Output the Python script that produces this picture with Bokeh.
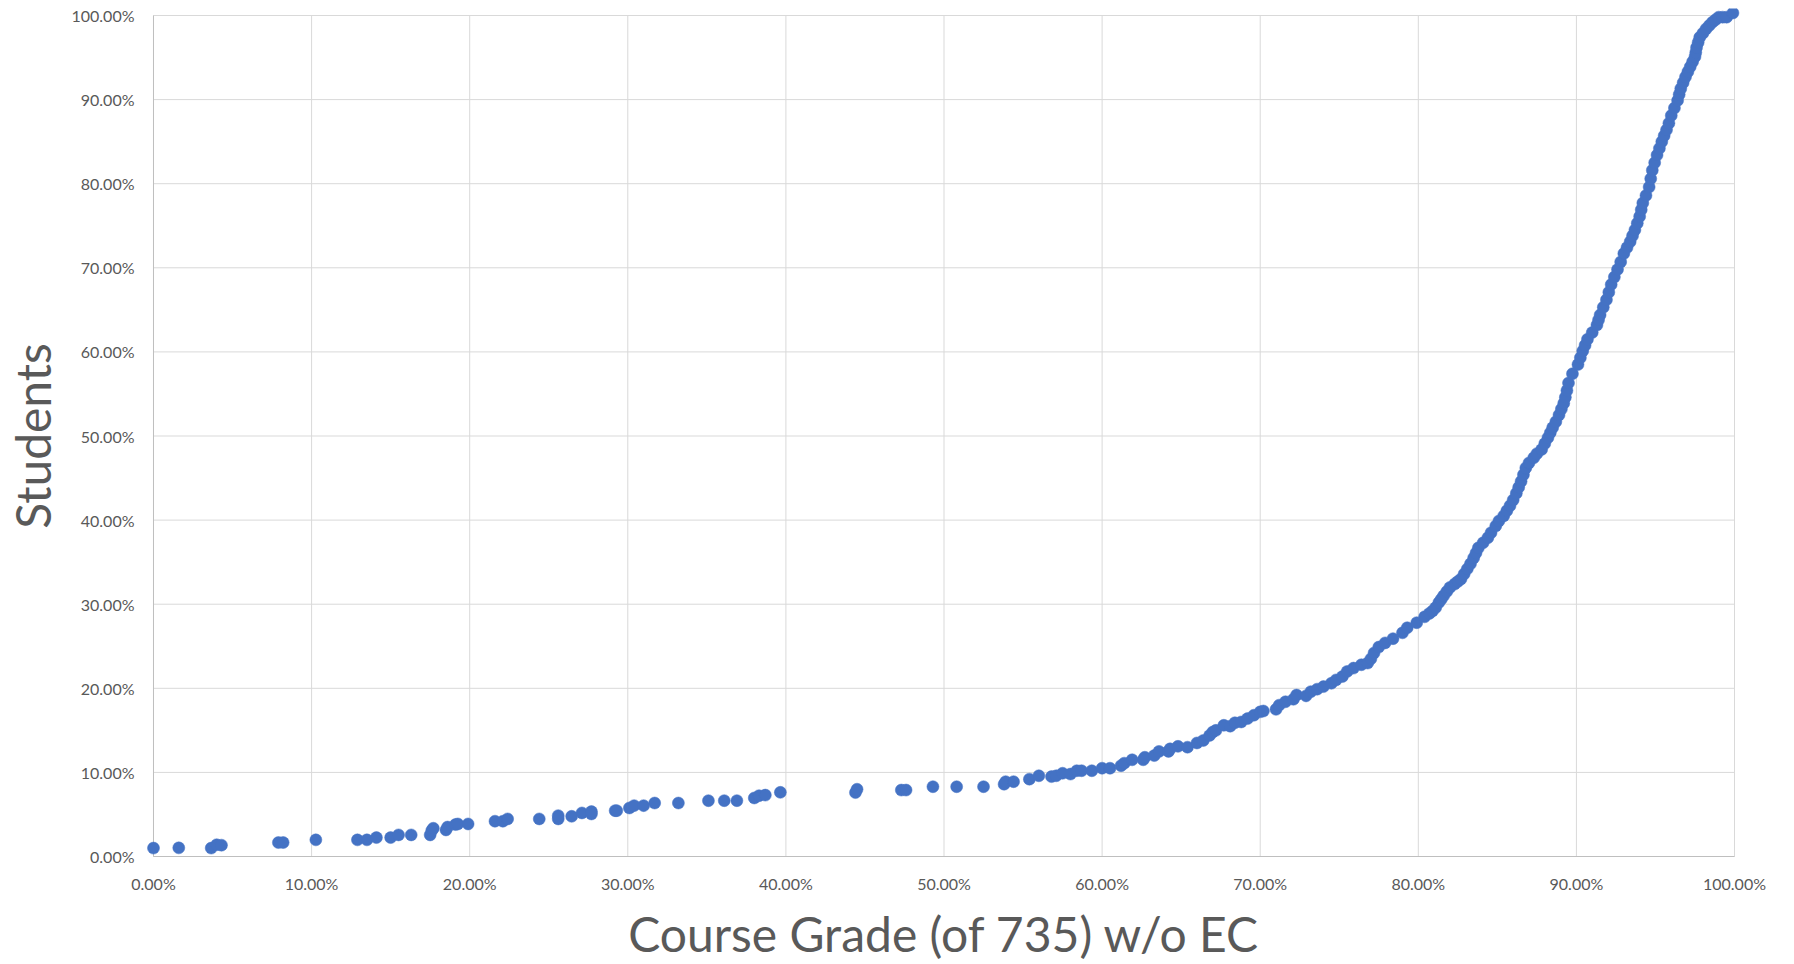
from bokeh.plotting import figure
from bokeh.models import ColumnDataSource, FixedTicker, NumeralTickFormatter
from bokeh.embed import file_html
from bokeh.resources import INLINE

# ---- data (percent) ----
low_grade = [0.0, 1.6, 3.65, 4.0, 4.3, 7.9, 8.2, 10.27, 12.9, 13.5,
             14.1, 15.0, 15.5, 16.3, 17.5, 17.6, 17.7, 18.5, 18.6, 19.1,
             19.25, 19.9, 21.6, 22.1, 22.4, 24.4, 25.6, 25.6, 26.45, 27.1,
             27.7, 27.7, 29.2, 29.3, 30.1, 30.4, 31.0, 31.7, 33.2, 35.1,
             36.1, 36.9, 38.0, 38.3, 38.7, 39.65]
low_students = [1.0, 1.03, 1.0, 1.4, 1.35, 1.66, 1.66, 1.98, 1.98, 1.98,
                2.25, 2.25, 2.57, 2.57, 2.57, 3.1, 3.36, 3.16, 3.5, 3.8,
                3.87, 3.87, 4.2, 4.2, 4.47, 4.47, 4.47, 4.86, 4.78, 5.18,
                5.34, 5.06, 5.45, 5.45, 5.77, 6.05, 6.05, 6.36, 6.36, 6.64,
                6.64, 6.64, 6.96, 7.23, 7.3, 7.63]

mid_grade = [44.4, 44.5, 47.3, 47.6, 49.3, 50.8, 52.5, 53.8, 53.9, 54.4,
             55.4, 56.0, 56.8, 57.1, 57.5, 58.0, 58.4, 58.7, 59.35, 60.0,
             60.5, 61.2, 61.4, 61.9, 62.6, 62.7, 63.3, 63.6, 64.2, 64.3,
             64.8, 65.4, 66.0, 66.4, 66.8, 67.0, 67.2, 67.7, 68.1, 68.4,
             68.8, 69.2, 69.6, 70.0, 70.2, 71.0, 71.2, 71.6, 72.1, 72.3,
             72.9, 73.2, 73.6, 74.0, 74.5, 74.8, 75.2, 75.5, 75.9, 76.4,
             76.8, 77.0, 77.2, 77.5, 77.9, 78.4, 79.0, 79.3, 79.9]
mid_students = [7.6, 8.0, 7.9, 7.9, 8.3, 8.3, 8.3, 8.6, 8.9, 8.9,
                9.2, 9.6, 9.5, 9.6, 9.9, 9.8, 10.2, 10.2, 10.2, 10.5,
                10.5, 10.8, 11.1, 11.5, 11.5, 11.8, 12.0, 12.5, 12.5, 12.8,
                13.1, 13.0, 13.5, 13.8, 14.4, 14.8, 15.0, 15.6, 15.5, 15.9,
                16.0, 16.4, 16.8, 17.2, 17.3, 17.5, 18.0, 18.4, 18.7, 19.2,
                19.1, 19.6, 19.9, 20.2, 20.6, 21.0, 21.4, 22.0, 22.4, 22.8,
                23.0, 23.5, 24.2, 24.9, 25.4, 25.9, 26.6, 27.2, 27.8]

top_grade = [80.4, 80.7, 80.9, 81.1, 81.3, 81.45, 81.6, 81.8, 82.0, 82.3,
             82.5, 82.7, 82.9, 83.1, 83.3, 83.5, 83.65, 83.8, 84.1, 84.4,
             84.6, 84.9, 85.1, 85.4, 85.6, 85.8, 86.0, 86.2, 86.35, 86.5,
             86.65, 86.8, 87.0, 87.3, 87.5, 87.8, 88.0, 88.2, 88.35, 88.5,
             88.7, 88.9, 89.05, 89.2, 89.3, 89.4, 89.5, 89.75, 90.1, 90.25,
             90.4, 90.55, 90.7, 91.0, 91.3, 91.4, 91.5, 91.7, 91.9, 92.05,
             92.2, 92.4, 92.6, 92.8, 93.0, 93.2, 93.4, 93.55, 93.7, 93.85,
             94.0, 94.1, 94.2, 94.4, 94.6, 94.7, 94.8, 94.95, 95.1, 95.25,
             95.4, 95.55, 95.7, 95.85, 96.0, 96.2, 96.4, 96.5, 96.6, 96.75,
             96.9, 97.05, 97.2, 97.35, 97.5, 97.55, 97.6, 97.7, 97.8, 98.0,
             98.2, 98.4, 98.6, 98.8, 99.0, 99.25, 99.5, 99.9]
top_students = [28.5, 28.9, 29.2, 29.6, 30.2, 30.6, 31.0, 31.5, 32.0, 32.4,
                32.7, 33.0, 33.6, 34.2, 34.8, 35.5, 36.1, 36.7, 37.3, 37.9,
                38.5, 39.3, 39.9, 40.5, 41.1, 41.7, 42.4, 43.2, 43.9, 44.6,
                45.4, 46.2, 46.8, 47.4, 47.9, 48.4, 49.1, 49.8, 50.4, 51.0,
                51.7, 52.5, 53.2, 53.9, 54.6, 55.4, 56.3, 57.4, 58.5, 59.3,
                60.1, 60.8, 61.5, 62.3, 63.2, 63.8, 64.4, 65.3, 66.2, 67.1,
                68.0, 68.9, 69.8, 70.7, 71.7, 72.4, 73.1, 73.8, 74.5, 75.3,
                76.1, 76.9, 77.7, 78.6, 79.6, 80.6, 81.6, 82.5, 83.4, 84.2,
                85.0, 85.7, 86.4, 87.2, 88.1, 89.0, 89.9, 90.6, 91.3, 92.0,
                92.7, 93.3, 93.9, 94.5, 95.1, 95.6, 96.2, 96.8, 97.4, 97.9,
                98.4, 98.8, 99.2, 99.5, 99.8, 99.8, 99.8, 100.3]

x_ticks = [0, 10, 20, 30, 40, 50, 60, 70, 80, 90, 100]
y_ticks = [0, 10, 20, 30, 40, 50, 60, 70, 80, 90, 100]

x_title = "Course Grade (of 735) w/o EC"
y_title = "Students"

grade = low_grade + mid_grade + top_grade
students = low_students + mid_students + top_students
assert len(grade) == len(students)

src = ColumnDataSource(dict(x=[g / 100 for g in grade], y=[s / 100 for s in students]))

TEXT = "#595959"
FONT = "Lato"

W, H = 1786, 964
p = figure(width=W, height=H, output_backend="svg", toolbar_location=None,
           x_range=(-0.00442, 1.00442), y_range=(-0.00831, 1.00831),
           min_border_left=145, min_border_right=W - 1741, min_border_top=8,
           min_border_bottom=H - 864)
p.outline_line_color = None
p.background_fill_color = "white"
p.border_fill_color = "white"
p.xgrid.visible = False
p.ygrid.visible = False

xt = [t / 100 for t in x_ticks]
yt = [t / 100 for t in y_ticks]

# gridlines
p.segment(x0=xt, x1=xt, y0=[0] * len(xt), y1=[1] * len(xt), line_color="#d9d9d9", line_width=1)
p.segment(x0=[0] * len(yt), x1=[1] * len(yt), y0=yt, y1=yt, line_color="#d9d9d9", line_width=1)
# axis lines
p.segment(x0=[0, 0], x1=[0, 1], y0=[0, 0], y1=[1, 0], line_color="#bfbfbf", line_width=1)

p.scatter("x", "y", source=src, size=12, fill_color="#4472C4", line_color="#4472C4", line_width=0.5)

for ax, ticks, so, title, lso in ((p.xaxis, xt, 4, x_title, 9), (p.yaxis, yt, 6, y_title, 8)):
    ax.ticker = FixedTicker(ticks=ticks)
    ax.formatter = NumeralTickFormatter(format="0.00%")
    ax.axis_line_color = None
    ax.major_tick_line_color = None
    ax.minor_tick_line_color = None
    ax.major_label_text_font = FONT
    ax.major_label_text_font_size = "16px"
    ax.major_label_text_color = TEXT
    ax.major_label_standoff = so
    ax.axis_label = title
    ax.axis_label_text_font = FONT
    ax.axis_label_text_font_size = "48px"
    ax.axis_label_text_font_style = "normal"
    ax.axis_label_text_color = TEXT
    ax.axis_label_standoff = lso

open("out.html", "w").write(file_html(p, INLINE))
